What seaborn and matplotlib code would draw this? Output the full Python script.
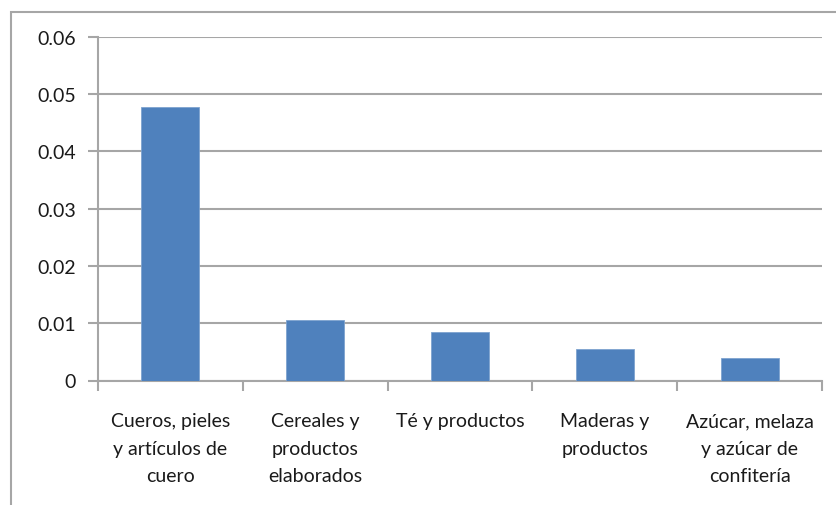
import matplotlib
matplotlib.use("Agg")
import matplotlib.pyplot as plt
import seaborn as sns
import pandas as pd
import numpy as np
from matplotlib.patches import Rectangle
from matplotlib.ticker import FixedLocator

categories = [
    "Cueros, pieles\ny artículos de\ncuero",
    "Cereales y\nproductos\nelaborados",
    "Té y productos",
    "Maderas y\nproductos",
    "Azúcar, melaza\ny azúcar de\nconfitería",
]
values = [0.0477, 0.0106, 0.0084, 0.0055, 0.0039]
y_ticks = [0, 0.01, 0.02, 0.03, 0.04, 0.05, 0.06]
y_tick_labels = ["0", "0.01", "0.02", "0.03", "0.04", "0.05", "0.06"]

df = pd.DataFrame({"categoria": categories, "valor": values})

sns.set_style("white")
plt.rcParams["font.family"] = ["Lato", "DejaVu Sans"]

fig = plt.figure(figsize=(8.37, 5.06), dpi=100)
ax = fig.add_axes([98 / 837, 1 - 381.5 / 506, (822 - 98) / 837, (381.5 - 37.7) / 506])

grid_color = "#a6a6a6"
bar_color = "#4f81bd"

sns.barplot(data=df, x="categoria", y="valor", color=bar_color, width=0.4,
            saturation=1, ax=ax, zorder=3)
for p in ax.patches:
    p.set_edgecolor("#7ea3cf")
    p.set_linewidth(0.6)

ax.set_xlim(-0.5, len(categories) - 0.5)
ax.set_ylim(0, 0.06)
ax.set_yticks(y_ticks)
ax.set_yticklabels(y_tick_labels)
ax.set_xlabel("")
ax.set_ylabel("")

ax.yaxis.grid(True, color=grid_color, linewidth=1.5, zorder=0)
ax.set_axisbelow(True)

for side in ("top", "right"):
    ax.spines[side].set_visible(False)
for side in ("left", "bottom"):
    ax.spines[side].set_color(grid_color)
    ax.spines[side].set_linewidth(1.5)

ax.tick_params(axis="y", which="major", direction="out", length=7, width=1.5,
               color=grid_color, labelsize=14, labelcolor="#1a1a1a", pad=9,
               left=True)
ax.tick_params(axis="x", which="major", length=0, labelsize=14,
               labelcolor="#1a1a1a", pad=23)
ax.xaxis.set_minor_locator(FixedLocator(np.arange(-0.5, len(categories), 1.0)))
ax.tick_params(axis="x", which="minor", direction="out", length=7, width=1.5,
               color=grid_color, bottom=True)
for lbl in ax.get_xticklabels():
    lbl.set_linespacing(1.75)
    lbl.set_ha("center")
    lbl.set_va("top")

# chart area frame
fig.patches.append(Rectangle((11 / 837, -0.1), 1.2, 1 - 13 / 506 + 0.1,
                             transform=fig.transFigure, fill=False,
                             edgecolor="#a6a6a6", linewidth=1.5))

fig.savefig("out.png", dpi=100, facecolor="white")
